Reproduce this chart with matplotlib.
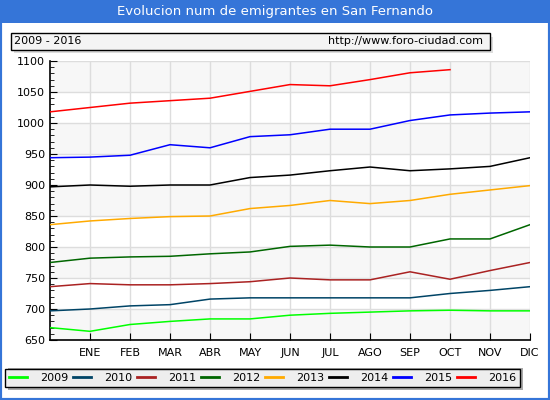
import matplotlib
matplotlib.use("Agg")
import matplotlib.pyplot as plt
from matplotlib.patches import Rectangle
from matplotlib.lines import Line2D

months = ["ENE", "FEB", "MAR", "ABR", "MAY", "JUN", "JUL", "AGO", "SEP", "OCT", "NOV", "DIC"]
years = ["2009", "2010", "2011", "2012", "2013", "2014", "2015", "2016"]
colors = ["#00ff00", "#004466", "#aa2222", "#006600", "#ffaa00", "#000000", "#0000ff", "#ff0000"]

v2009 = [670, 664, 675, 680, 684, 684, 690, 693, 695, 697, 698, 697, 697]
v2010 = [697, 700, 705, 707, 716, 718, 718, 718, 718, 718, 725, 730, 736]
v2011 = [736, 741, 739, 739, 741, 744, 750, 747, 747, 760, 748, 762, 775]
v2012 = [775, 782, 784, 785, 789, 792, 801, 803, 800, 800, 813, 813, 836]
v2013 = [836, 842, 846, 849, 850, 862, 867, 875, 870, 875, 885, 892, 899]
v2014 = [897, 900, 898, 900, 900, 912, 916, 923, 929, 923, 926, 930, 944]
v2015 = [944, 945, 948, 965, 960, 978, 981, 990, 990, 1004, 1013, 1016, 1018]
v2016 = [1018, 1025, 1032, 1036, 1040, 1051, 1062, 1060, 1070, 1081, 1086]
series = [v2009, v2010, v2011, v2012, v2013, v2014, v2015, v2016]

W, H = 550, 400
fig = plt.figure(figsize=(5.5, 4), dpi=100)
fig.patch.set_facecolor("white")

def fx(px):
    return px / W

def fy(py):
    return 1 - py / H

blue = "#3575d8"
# outer border
fig.patches.append(Rectangle((0, 0), 1, 1, transform=fig.transFigure, fill=False,
                             edgecolor=blue, linewidth=3, zorder=0))
# title bar
fig.patches.append(Rectangle((0, fy(23)), 1, 23 / H, transform=fig.transFigure,
                             facecolor=blue, edgecolor="none", zorder=1))
fig.text(0.5, fy(11.5), "Evolucion num de emigrantes en San Fernando", color="white",
         ha="center", va="center", fontsize=9.5, family="DejaVu Sans")

# subtitle box with shadow
fig.patches.append(Rectangle((fx(14), fy(53)), fx(479), 16 / H, transform=fig.transFigure,
                             facecolor="#dddddd", edgecolor="none", zorder=1))
fig.patches.append(Rectangle((fx(11), fy(49.5)), fx(479), 16 / H, transform=fig.transFigure,
                             facecolor="#f4f4f4", edgecolor="black", linewidth=1, zorder=2))
fig.text(fx(14), fy(41.5), "2009 - 2016", fontsize=8, va="center", ha="left", zorder=3)
fig.text(fx(483), fy(41.5), "http://www.foro-ciudad.com", fontsize=8, va="center", ha="right", zorder=3)

ax = fig.add_axes([fx(50), fy(340), fx(480), (340 - 61) / H])
ax.set_xlim(0, 12)
ax.set_ylim(650, 1100)
for lo in range(650, 1100, 100):
    ax.axhspan(lo, lo + 50, facecolor="#f7f7f7", edgecolor="none", zorder=0)
ax.set_xticks(range(1, 13))
ax.set_xticklabels(months)
ax.set_yticks(range(650, 1101, 50))
ax.set_yticks(range(650, 1101, 10), minor=True)
ax.grid(True, which="major", color="#dddddd", linewidth=1, zorder=1)
ax.set_axisbelow(True)
for s, c, y in zip(series, colors, years):
    ax.plot(range(len(s)), s, color=c, linewidth=1.1, label=y, zorder=3)
for sp in ["top", "right"]:
    ax.spines[sp].set_visible(False)
ax.spines["left"].set_linewidth(1.2)
ax.spines["bottom"].set_linewidth(1.2)
ax.tick_params(axis="both", which="major", direction="in", length=5, labelsize=8)
ax.tick_params(axis="y", which="minor", direction="in", length=3)
ax.tick_params(axis="x", pad=6)

# legend box with shadow
fig.patches.append(Rectangle((fx(8), fy(390)), fx(515), 22 / H, transform=fig.transFigure,
                             facecolor="#aaaaaa", edgecolor="none", zorder=1))
handles = [Line2D([0], [0], color=c, linewidth=2) for c in colors]
leg = fig.legend(handles, years, loc="lower left",
                 bbox_to_anchor=(fx(5), fy(387), fx(515), 22 / H),
                 mode="expand", ncol=8, fontsize=8, frameon=True, fancybox=False,
                 handlelength=1.6, handletextpad=1.2, borderaxespad=0, borderpad=0.35)
leg.get_frame().set_facecolor("#eeeeee")
leg.get_frame().set_edgecolor("black")
leg.get_frame().set_alpha(1)
leg.set_zorder(2)

fig.savefig("out.png", dpi=100)
